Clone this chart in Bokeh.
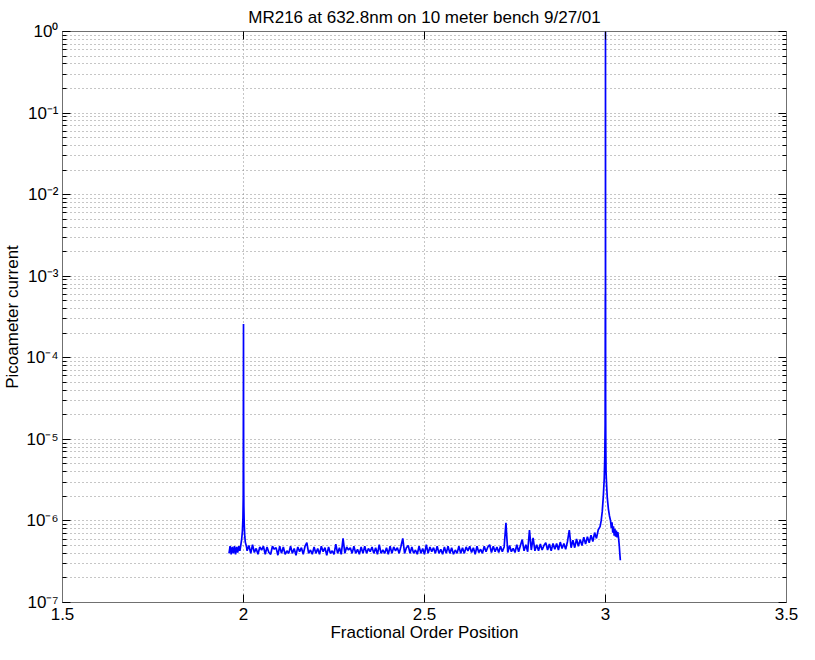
from bokeh.plotting import figure
from bokeh.models import Range1d, FixedTicker, LinearAxis, LogAxis
from bokeh.embed import file_html
from bokeh.resources import INLINE

# ---------------- texts / ticks ----------------
title_text = "MR216 at 632.8nm on 10 meter bench 9/27/01"
x_label = "Fractional Order Position"
y_label = "Picoameter current"

x_ticks = [1.5, 2.0, 2.5, 3.0, 3.5]
x_tick_labels = ["1.5", "2", "2.5", "3", "3.5"]
y_ticks = [1e-7, 1e-6, 1e-5, 1e-4, 1e-3, 1e-2, 1e-1, 1e0]
y_tick_labels = ["10\u207b\u2077", "10\u207b\u2076", "10\u207b\u2075", "10\u207b\u2074",
                 "10\u207b\u00b3", "10\u207b\u00b2", "10\u207b\u00b9", "10\u2070"]

# ---------------- data (current in units of 1e-7) ----------------
# region around the order-2 peak
order_left = [1.960, 1.963, 1.966, 1.969, 1.972, 1.975, 1.978, 1.981, 1.984, 1.987,
              1.990, 1.993, 1.995, 1.997, 1.9985, 1.9993, 1.9997, 2.0000, 2.0002, 2.0005,
              2.0010, 2.0020, 2.0035, 2.005, 2.008]
current_left = [4.0, 4.9, 3.9, 4.8, 4.0, 4.9, 3.9, 4.8, 4.1, 4.9,
                4.3, 5.2, 6.0, 7.5, 11, 20, 330, 2600, 300, 40,
                15, 9, 6.5, 5.5, 4.9]

# baseline between the orders
order_base = [
    2.010, 2.015, 2.020, 2.025, 2.030, 2.035, 2.040, 2.045, 2.050, 2.055,
    2.060, 2.065, 2.070, 2.075, 2.080, 2.085, 2.090, 2.095, 2.100, 2.105,
    2.110, 2.115, 2.120, 2.125, 2.130, 2.135, 2.140, 2.145, 2.150, 2.155,
    2.160, 2.165, 2.170, 2.175, 2.180, 2.185, 2.190, 2.195, 2.200, 2.205,
    2.210, 2.215, 2.220, 2.225, 2.230, 2.235, 2.240, 2.245, 2.250, 2.255,
    2.260, 2.265, 2.270, 2.275, 2.280, 2.285, 2.290, 2.295, 2.300, 2.305,
    2.310, 2.315, 2.320, 2.325, 2.330, 2.335, 2.340, 2.345, 2.350, 2.355,
    2.360, 2.365, 2.370, 2.375, 2.380, 2.385, 2.390, 2.395, 2.400, 2.405,
    2.410, 2.415, 2.420, 2.425, 2.430, 2.435, 2.440, 2.445, 2.450, 2.455,
    2.460, 2.465, 2.470, 2.475, 2.480, 2.485, 2.490, 2.495, 2.500, 2.505,
    2.510, 2.515, 2.520, 2.525, 2.530, 2.535, 2.540, 2.545, 2.550, 2.555,
    2.560, 2.565, 2.570, 2.575, 2.580, 2.585, 2.590, 2.595, 2.600, 2.605,
    2.610, 2.615, 2.620, 2.625, 2.630, 2.635, 2.640, 2.645, 2.650, 2.655,
    2.660, 2.665, 2.670, 2.675, 2.680, 2.685, 2.690, 2.695, 2.700, 2.705,
    2.710, 2.715, 2.720, 2.725, 2.730, 2.735, 2.740, 2.745, 2.750, 2.755,
    2.760, 2.765, 2.770, 2.775, 2.780, 2.785, 2.790, 2.795, 2.800, 2.805,
    2.810, 2.815, 2.820, 2.825, 2.830, 2.835, 2.840, 2.845, 2.850, 2.855,
    2.860, 2.865, 2.870, 2.875, 2.880, 2.885, 2.890, 2.895, 2.900, 2.905,
    2.910, 2.915, 2.920, 2.925, 2.930, 2.935, 2.940, 2.945, 2.950, 2.955,
    2.960, 2.965, 2.970, 2.975, 2.980, 2.985]
current_base = [
    4.3, 5.0, 4.0, 5.1, 4.1, 4.6, 3.9, 4.8, 4.4, 4.9,
    3.9, 4.8, 4.1, 3.9, 4.9, 4.5, 4.7, 3.8, 4.9, 4.0,
    4.8, 3.9, 4.3, 4.0, 4.9, 4.0, 4.6, 3.8, 4.8, 4.2,
    4.7, 3.9, 4.9, 5.4, 4.0, 4.4, 3.9, 4.8, 4.0, 4.6,
    3.9, 4.9, 4.2, 4.7, 3.8, 4.8, 4.0, 4.3, 3.9, 5.2,
    4.0, 4.7, 3.9, 6.1, 4.0, 4.8, 4.4, 4.7, 4.0, 4.9,
    4.0, 4.5, 3.9, 4.8, 4.0, 4.9, 4.0, 4.6, 4.2, 4.8,
    4.0, 4.7, 3.9, 5.1, 4.0, 4.4, 4.0, 4.7, 3.9, 4.9,
    4.0, 4.8, 4.3, 4.7, 4.0, 4.9, 6.1, 4.0, 4.7, 5.0,
    4.0, 4.8, 4.0, 4.4, 3.9, 4.9, 4.0, 4.6, 3.9, 5.1,
    4.0, 4.8, 4.2, 4.7, 4.0, 4.9, 4.0, 4.5, 3.9, 4.8,
    4.0, 4.9, 4.0, 4.7, 3.9, 4.4, 4.0, 4.9, 4.0, 4.7,
    4.0, 4.8, 4.3, 4.9, 4.1, 4.7, 3.9, 4.9, 4.1, 4.5,
    4.0, 4.9, 4.2, 4.8, 5.1, 4.1, 4.9, 4.2, 4.8, 4.1,
    4.9, 4.2, 4.8, 9.5, 4.1, 5.0, 4.2, 4.6, 4.1, 5.1,
    4.2, 5.0, 5.9, 4.3, 5.1, 4.2, 7.7, 4.4, 6.2, 4.3,
    5.1, 4.3, 5.2, 4.4, 5.0, 5.4, 4.4, 5.2, 4.3, 5.3,
    4.5, 5.3, 4.4, 5.5, 4.6, 5.3, 4.5, 5.6, 7.7, 4.7,
    5.8, 4.7, 6.0, 4.9, 5.9, 5.0, 6.3, 5.2, 6.4, 5.4,
    6.7, 5.6, 7.2, 6.1, 7.8, 8.5]

# region around the order-3 peak
order_right = [2.9880, 2.9910, 2.9940, 2.9965, 2.9980, 2.9990, 2.9995, 2.9998, 3.0000, 3.0002,
               3.0004, 3.0008, 3.0015, 3.0030, 3.0050, 3.0080, 3.0110, 3.0140, 3.0160, 3.0180,
               3.0200, 3.0220, 3.0240, 3.0260, 3.0280, 3.0300, 3.0320, 3.0340, 3.0360, 3.0380,
               3.0395, 3.0410]
current_right = [10, 13, 20, 33, 60, 150, 6000, 900, 10000000, 6500,
                 300, 90, 40, 28, 19, 14, 11.5, 10, 8.2, 9.6,
                 7.2, 8.6, 6.6, 8.0, 6.4, 7.6, 6.3, 7.3, 6.2, 5.0,
                 4.0, 3.3]

order = order_left + order_base + order_right
current = [v * 1e-7 for v in current_left + current_base + current_right]

# ---------------- figure ----------------
FONT = "Liberation Sans"
GRID = "#8c8c8c"
AXIS = "#707070"

p = figure(width=799, height=644,
           x_range=Range1d(1.5, 3.5), y_range=Range1d(1e-7, 1.0),
           y_axis_type="log", output_backend="svg", toolbar_location=None,
           min_border_left=58, min_border_right=13, min_border_top=31, min_border_bottom=10,
           background_fill_color="white", border_fill_color="white")

p.title.text = title_text
p.title.align = "center"
p.title.text_font = FONT
p.title.text_font_size = "17px"
p.title.text_font_style = "normal"
p.title.text_color = "black"
p.title.standoff = 9

x_ticker = FixedTicker(ticks=x_ticks)
y_minor = [m * d for d in y_ticks[:-1] for m in range(2, 10)]
y_ticker = FixedTicker(ticks=y_ticks, minor_ticks=y_minor)

p.line(order, current, line_color="#0000ff", line_width=1.7)

def style_axis(ax):
    ax.axis_line_color = AXIS
    ax.major_tick_line_color = "black"
    ax.minor_tick_line_color = "black"
    ax.major_tick_in = 8
    ax.major_tick_out = 0
    ax.minor_tick_in = 4
    ax.minor_tick_out = 0
    ax.major_label_text_font = FONT
    ax.major_label_text_color = "black"
    ax.major_label_text_font_size = "17px"
    ax.axis_label_text_font = FONT
    ax.axis_label_text_font_style = "normal"
    ax.axis_label_text_color = "black"
    ax.axis_label_text_font_size = "17px"

xa = p.xaxis[0]
xa.ticker = x_ticker
xa.major_label_overrides = dict(zip(x_ticks, x_tick_labels))
xa.axis_label = x_label
style_axis(xa)
xa.major_label_standoff = 5
xa.axis_label_standoff = 0

ya = p.yaxis[0]
ya.ticker = y_ticker
ya.major_label_overrides = dict(zip(y_ticks, y_tick_labels))
ya.axis_label = y_label
style_axis(ya)
ya.major_label_standoff = 4
ya.axis_label_standoff = 1

# box axes (top / right): ticks only, drawn as label-less minor ticks
top_axis = LinearAxis(ticker=FixedTicker(ticks=[], minor_ticks=x_ticks))
style_axis(top_axis)
top_axis.minor_tick_in = 8
p.add_layout(top_axis, "above")

right_major = LogAxis(ticker=FixedTicker(ticks=[], minor_ticks=y_ticks))
style_axis(right_major)
right_major.minor_tick_in = 8
p.add_layout(right_major, "right")

right_minor = LogAxis(ticker=FixedTicker(ticks=[], minor_ticks=y_minor))
style_axis(right_minor)
right_minor.minor_tick_in = 4
p.add_layout(right_minor, "right")

p.xgrid.ticker = x_ticker
p.ygrid.ticker = y_ticker
for g in (p.xgrid[0], p.ygrid[0]):
    g.grid_line_color = GRID
    g.grid_line_dash = "1 3"
    g.grid_line_width = 1
p.ygrid[0].minor_grid_line_color = GRID
p.ygrid[0].minor_grid_line_dash = "1 3"
p.ygrid[0].minor_grid_line_width = 1

p.outline_line_color = AXIS

open("out.html", "w").write(file_html(p, INLINE))
